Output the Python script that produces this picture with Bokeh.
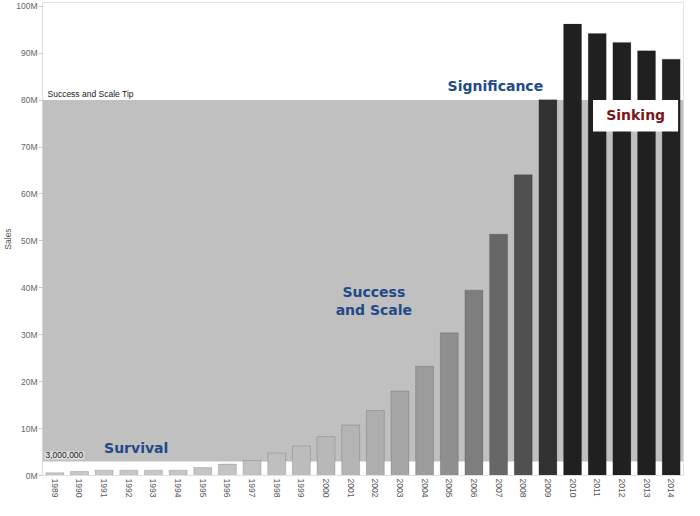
import numpy as np
from bokeh.plotting import figure
from bokeh.models import (ColumnDataSource, Range1d, FactorRange, BoxAnnotation, Label,
                          FixedTicker, PrintfTickFormatter)
from bokeh.transform import linear_cmap
from bokeh.embed import file_html
from bokeh.resources import INLINE

# ---- data (sales in millions) ----
years = [str(y) for y in range(1989, 2015)]
sales = [0.58, 0.86, 1.13, 1.13, 1.13, 1.13, 1.69, 2.43, 3.2, 4.78, 6.28, 8.28, 10.75,
         13.84, 18.0, 23.3, 30.4, 39.5, 51.4, 64.1, 80.1, 96.2, 94.2, 92.3, 90.5, 88.7]
band_low = 3.0
band_high = 80.0
y_ticks = [0, 10, 20, 30, 40, 50, 60, 70, 80, 90, 100]

source = ColumnDataSource(data=dict(year=years, sales=sales))

grays = ["#%02x%02x%02x" % (v, v, v) for v in np.linspace(200, 32, 256).astype(int)]

p = figure(width=684, height=500, x_range=FactorRange(*years), y_range=Range1d(0, 100.8),
           output_backend="svg", toolbar_location=None,
           min_border_left=0, min_border_right=1, min_border_top=2, min_border_bottom=0)
p.background_fill_color = "white"
p.border_fill_color = "white"
p.outline_line_color = "#e3e3e3"
p.xgrid.visible = False
p.ygrid.visible = False

# gray band
band = BoxAnnotation(bottom=band_low, top=band_high, fill_color="#c0c0c0", fill_alpha=1.0,
                     line_color=None, level="underlay")
p.add_layout(band)

p.vbar(x="year", top="sales", width=0.73, source=source,
       fill_color=linear_cmap("sales", grays, low=0, high=90),
       line_color="black", line_alpha=0.15, line_width=1)

# Sinking white box
sink_box = BoxAnnotation(left=22.33, right=25.78, bottom=73.3, top=80.0,
                         fill_color="white", fill_alpha=1.0, line_color=None)
p.add_layout(sink_box)

# axes
p.yaxis.ticker = FixedTicker(ticks=y_ticks)
p.yaxis.formatter = PrintfTickFormatter(format="%dM")
p.yaxis.major_label_text_font = "Liberation Sans"
p.yaxis.major_label_text_font_size = "8.5px"
p.yaxis.major_label_text_color = "#666666"
p.yaxis.axis_line_color = "#d4d4d4"
p.yaxis.axis_line_dash = "1 1"
p.yaxis.major_tick_line_color = "#cccccc"
p.yaxis.major_tick_out = 4
p.yaxis.major_tick_in = 0
p.yaxis.minor_tick_line_color = None
p.yaxis.minor_tick_out = 0
p.yaxis.minor_tick_in = 0
p.yaxis.major_label_standoff = 1
p.yaxis.axis_label = "Sales"
p.yaxis.axis_label_standoff = 0
p.yaxis.axis_label_text_font = "Liberation Sans"
p.yaxis.axis_label_text_font_size = "8.5px"
p.yaxis.axis_label_text_font_style = "normal"
p.yaxis.axis_label_text_color = "#555555"

p.xaxis.major_label_orientation = "vertical"
p.xaxis.major_label_text_font = "Liberation Sans"
p.xaxis.major_label_text_font_size = "8.5px"
p.xaxis.major_label_text_color = "#555555"
p.xaxis.axis_line_color = "#e0e0e0"
p.xaxis.major_tick_line_color = None
p.xaxis.major_tick_out = 0
p.xaxis.major_tick_in = 0
p.xaxis.minor_tick_line_color = None
p.xaxis.minor_tick_out = 0
p.xaxis.major_label_standoff = 3
p.xaxis.axis_label_standoff = 0

# small annotations
p.add_layout(Label(x=0, y=band_high, x_offset=5, y_offset=1, text="Success and Scale Tip",
                   text_align="left", text_baseline="bottom",
                   text_font="Liberation Sans", text_font_size="8.5px", text_color="#222222"))
p.add_layout(Label(x=0, y=band_low, x_offset=2, y_offset=2, text="3,000,000",
                   text_align="left", text_baseline="bottom",
                   text_font="Liberation Sans", text_font_size="8.5px", text_color="#222222",
                   background_fill_color="#dedede", background_fill_alpha=1.0, padding=1))

blue = "#1f4a87"
big = dict(text_align="center", text_baseline="middle", text_font="DejaVu Sans",
           text_font_style="bold", text_font_size="14px")
p.add_layout(Label(x=3.8, y=5.9, text="Survival", text_color=blue, **big))
p.add_layout(Label(x=13.44, y=39.0, text="Success", text_color=blue, **big))
p.add_layout(Label(x=13.44, y=35.3, text="and Scale", text_color=blue, **big))
p.add_layout(Label(x=18.37, y=82.9, text="Significance", text_color=blue, **big))
p.add_layout(Label(x=24.06, y=76.8, text="Sinking", text_color="#7a1518", **big))

open("out.html", "w").write(file_html(p, INLINE))
